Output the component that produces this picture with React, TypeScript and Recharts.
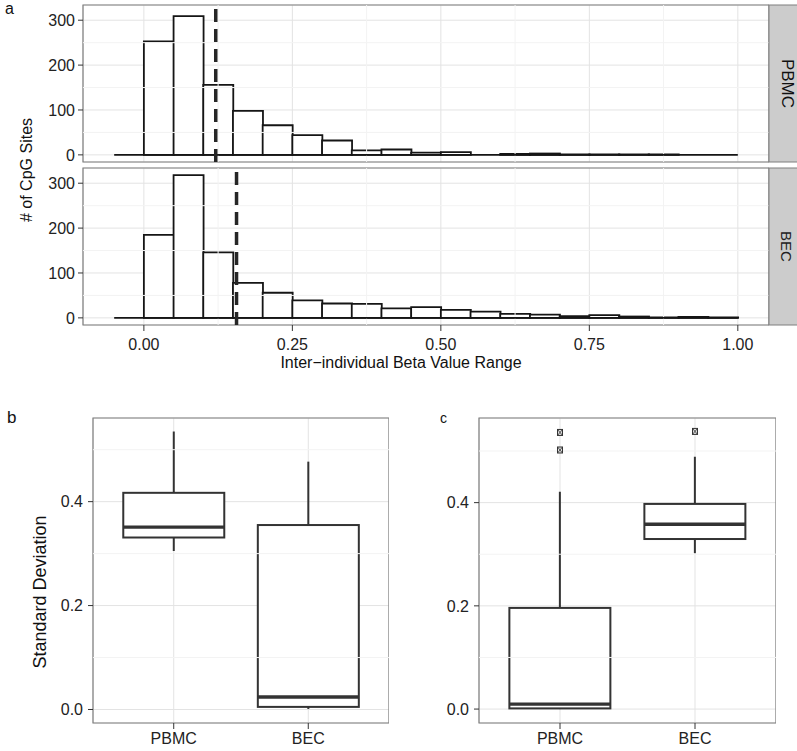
import React from 'react'
import {
  ComposedChart,
  Bar,
  Scatter,
  XAxis,
  YAxis,
  CartesianGrid,
  ReferenceLine,
  ReferenceArea,
} from 'recharts'

// panel a: histogram of inter-individual beta value range (bin width 0.05)
const binMids = [
  -0.025, 0.025, 0.075, 0.125, 0.175, 0.225, 0.275, 0.325, 0.375, 0.425, 0.475,
  0.525, 0.575, 0.625, 0.675, 0.725, 0.775, 0.825, 0.875, 0.925, 0.975,
]
const binWidth = 0.05
const pbmcCounts = [0, 253, 309, 156, 98, 66, 44, 32, 10, 12, 5, 6, 0, 2, 3, 1, 1, 1, 1, 0, 0]
const becCounts = [0, 185, 318, 146, 78, 56, 39, 32, 31, 21, 24, 18, 14, 9, 7, 4, 6, 3, 1, 2, 1]
const pbmcMeanRange = 0.121
const becMeanRange = 0.156

const histXTicks = [0, 0.25, 0.5, 0.75, 1]
const histXMinor = [0.125, 0.375, 0.625, 0.875]
const histYTicks = [0, 100, 200, 300]
const histYMinor = [50, 150, 250]
const histXDomain: [number, number] = [-0.1025, 1.0525]
const histYDomain: [number, number] = [-15.9, 333.9]

// panels b and c: standard deviation box plots
const cellTypes = ['PBMC', 'BEC']
const bLow = [0.305, 0.001]
const bQ1 = [0.331, 0.005]
const bMedian = [0.351, 0.024]
const bQ3 = [0.417, 0.355]
const bHigh = [0.535, 0.477]

const cLow = [0.0, 0.302]
const cQ1 = [0.0013, 0.3295]
const cMedian = [0.0096, 0.358]
const cQ3 = [0.196, 0.3975]
const cHigh = [0.421, 0.489]
const cOutlierCells = ['PBMC', 'PBMC', 'BEC']
const cOutlierValues = [0.536, 0.502, 0.538]

const sdTicks = [0, 0.2, 0.4]
const sdMinor = [0.1, 0.3, 0.5]

const FONT = '"Liberation Sans", Arial, Helvetica, sans-serif'
const INK = '#151515'
const BOX = '#333333'
const MAJOR = '#e3e3e3'
const MINOR = '#f3f3f3'
const BORDER = '#7f7f7f'

const tickStyle = { fontSize: 16, fill: '#222', fontFamily: FONT }

function HistFacet({ counts, meanRange, top, showAxis }: {
  counts: number[]
  meanRange: number
  top: number
  showAxis: boolean
}) {
  const data = binMids.map((mid, i) => ({ mid, count: counts[i] }))
  const axisH = showAxis ? 45 : 0
  const bottomPad = showAxis ? 0 : 8
  const h = 5 + 157 + axisH + bottomPad
  const lo = binMids[0] - binWidth / 2
  const hi = binMids[binMids.length - 1] + binWidth / 2

  return (
    <div style={{ position: 'absolute', left: 0, top, width: 769, height: h }}>
      <ComposedChart
        width={769}
        height={h}
        data={data}
        margin={{ top: 5, right: 0, bottom: bottomPad, left: 0 }}
        barCategoryGap={0}
        barGap={0}
      >
        <CartesianGrid stroke={MAJOR} strokeWidth={1} />
        {histXMinor.map((v) => (
          <ReferenceLine key={'mx' + v} x={v} stroke={MINOR} strokeWidth={1} />
        ))}
        {histYMinor.map((v) => (
          <ReferenceLine key={'my' + v} y={v} stroke={MINOR} strokeWidth={1} />
        ))}
        <XAxis
          dataKey="mid"
          type="number"
          domain={histXDomain}
          ticks={histXTicks}
          interval={0}
          allowDataOverflow
          hide={!showAxis}
          height={axisH}
          tickFormatter={(v: number) => v.toFixed(2)}
          tick={tickStyle}
          tickLine={{ stroke: BOX }}
          axisLine={false}
          tickSize={6}
          tickMargin={8}
        />
        <YAxis
          type="number"
          domain={histYDomain}
          ticks={histYTicks}
          interval={0}
          allowDataOverflow
          width={83}
          tick={tickStyle}
          tickLine={{ stroke: BOX }}
          axisLine={false}
          tickSize={5}
          tickMargin={3}
        />
        <Bar dataKey="count" fill="#fff" stroke={INK} strokeWidth={1.8} isAnimationActive={false} />
        <ReferenceLine
          segment={[{ x: lo, y: 0 }, { x: hi, y: 0 }]}
          stroke={INK}
          strokeWidth={1.8}
        />
        <ReferenceLine x={meanRange} stroke="#262626" strokeWidth={3.5} strokeDasharray="13 7" />
        <ReferenceArea
          x1={histXDomain[0]}
          x2={histXDomain[1]}
          y1={histYDomain[0]}
          y2={histYDomain[1]}
          fill="none"
          stroke={BORDER}
          strokeWidth={1.2}
        />
      </ComposedChart>
    </div>
  )
}

const WhiskerShape = (p: any) => {
  const cx = p.x + p.width / 2
  return <line x1={cx} x2={cx} y1={p.y} y2={p.y + p.height} stroke={BOX} strokeWidth={2} />
}

const BoxShape = (p: any) => (
  <rect
    x={p.x}
    y={Math.min(p.y, p.y + p.height)}
    width={p.width}
    height={Math.abs(p.height)}
    fill="#fff"
    stroke={BOX}
    strokeWidth={2}
  />
)

// median bar spans [q1, median]; only its top edge is drawn
const MedianShape = (p: any) => (
  <line x1={p.x} x2={p.x + p.width} y1={p.y} y2={p.y} stroke={BOX} strokeWidth={3.4} />
)

const OutlierShape = (p: any) => {
  const { cx, cy } = p
  return (
    <g>
      <rect x={cx - 2.5} y={cy - 3} width={5} height={6} fill="#ddd" stroke={BOX} strokeWidth={1} />
      <path
        d={`M${cx - 2.5},${cy - 3}L${cx + 2.5},${cy + 3}M${cx + 2.5},${cy - 3}L${cx - 2.5},${cy + 3}`}
        stroke={BOX}
        strokeWidth={0.8}
      />
    </g>
  )
}

function BoxPanel(props: {
  left: number
  width: number
  yAxisWidth: number
  domain: [number, number]
  low: number[]
  q1: number[]
  median: number[]
  q3: number[]
  high: number[]
  outCells?: string[]
  outValues?: number[]
}) {
  const { left, width, yAxisWidth, domain, low, q1, median, q3, high, outCells = [], outValues = [] } = props
  const data = cellTypes.map((cell, i) => ({
    cell,
    whisker: [low[i], high[i]],
    box: [q1[i], q3[i]],
    med: [q1[i], median[i]],
  }))
  const outliers = outCells.map((cell, i) => ({ cell, sd: outValues[i] }))
  // ggplot discrete expansion: 0.6 of a category on each side
  const plotW = width - yAxisWidth
  const pad = (plotW * 0.1) / 2.2
  const top = 412
  const h = 337

  const catAxis = (id: string, visible: boolean) => (
    <XAxis
      xAxisId={id}
      dataKey="cell"
      type="category"
      allowDuplicatedCategory={false}
      padding={{ left: pad, right: pad }}
      hide={!visible}
      height={26}
      tick={tickStyle}
      tickLine={{ stroke: BOX }}
      axisLine={false}
      tickSize={6}
      tickMargin={4}
    />
  )

  return (
    <div style={{ position: 'absolute', left, top, width, height: h }}>
      <ComposedChart
        width={width}
        height={h}
        data={data}
        margin={{ top: 6, right: 0, bottom: 0, left: 0 }}
        barCategoryGap="12.5%"
        barGap={0}
      >
        <CartesianGrid xAxisId="box" stroke={MAJOR} strokeWidth={1} />
        {sdMinor.map((v) => (
          <ReferenceLine key={'m' + v} xAxisId="box" y={v} stroke={MINOR} strokeWidth={1} />
        ))}
        {catAxis('box', true)}
        {catAxis('whisker', false)}
        {catAxis('median', false)}
        <XAxis xAxisId="frame" type="number" domain={[0, 1]} allowDataOverflow hide />
        <YAxis
          type="number"
          domain={domain}
          ticks={sdTicks}
          interval={0}
          allowDataOverflow
          width={yAxisWidth}
          tickFormatter={(v: number) => v.toFixed(1)}
          tick={tickStyle}
          tickLine={{ stroke: BOX }}
          axisLine={false}
          tickSize={5}
          tickMargin={5}
        />
        <Bar xAxisId="whisker" dataKey="whisker" shape={WhiskerShape} isAnimationActive={false} />
        <Bar xAxisId="box" dataKey="box" shape={BoxShape} isAnimationActive={false} />
        <Bar xAxisId="median" dataKey="med" shape={MedianShape} isAnimationActive={false} />
        {outliers.length > 0 && (
          <Scatter xAxisId="box" data={outliers} dataKey="sd" shape={OutlierShape} isAnimationActive={false} />
        )}
        <ReferenceArea
          xAxisId="frame"
          x1={0}
          x2={1}
          y1={domain[0]}
          y2={domain[1]}
          fill="none"
          stroke={BORDER}
          strokeWidth={1.2}
        />
      </ComposedChart>
    </div>
  )
}

export default function App() {
  return (
    <div
      style={{
        position: 'absolute',
        left: 0,
        top: 0,
        width: 797,
        height: 751,
        overflow: 'hidden',
        background: '#fff',
        fontFamily: FONT,
      }}
    >
      <HistFacet counts={pbmcCounts} meanRange={pbmcMeanRange} top={0} showAxis={false} />
      <HistFacet counts={becCounts} meanRange={becMeanRange} top={163} showAxis />
      <BoxPanel
        left={0}
        width={389}
        yAxisWidth={93}
        domain={[-0.026, 0.561]}
        low={bLow}
        q1={bQ1}
        median={bMedian}
        q3={bQ3}
        high={bHigh}
      />
      <BoxPanel
        left={400}
        width={376}
        yAxisWidth={79}
        domain={[-0.027, 0.564]}
        low={cLow}
        q1={cQ1}
        median={cMedian}
        q3={cQ3}
        high={cHigh}
        outCells={cOutlierCells}
        outValues={cOutlierValues}
      />
      <svg
        width={797}
        height={751}
        style={{ position: 'absolute', left: 0, top: 0, pointerEvents: 'none' }}
        fontFamily={FONT}
      >
        <rect x={769} y={5} width={30} height={157} fill="#cccccc" stroke={BORDER} strokeWidth={1} />
        <rect x={769} y={168} width={30} height={157} fill="#cccccc" stroke={BORDER} strokeWidth={1} />
        <text x={787} y={83.5} fontSize={17} fill="#111" textAnchor="middle" dominantBaseline="central" transform="rotate(90 787 83.5)">
          PBMC
        </text>
        <text x={786} y={246.5} fontSize={15} fill="#222" textAnchor="middle" dominantBaseline="central" transform="rotate(90 786 246.5)">
          BEC
        </text>
        <text x={26} y={170} fontSize={16} fill="#111" textAnchor="middle" dominantBaseline="central" transform="rotate(-90 26 170)">
          # of CpG Sites
        </text>
        <text x={401} y={368} fontSize={16} fill="#111" textAnchor="middle">
          Inter−individual Beta Value Range
        </text>
        <text x={40} y={592} fontSize={18} fill="#111" textAnchor="middle" dominantBaseline="central" transform="rotate(-90 40 592)">
          Standard Deviation
        </text>
        <text x={5} y={14} fontSize={16} fill="#111">a</text>
        <text x={7} y={423} fontSize={17} fill="#111">b</text>
        <text x={440} y={423} fontSize={14} fill="#111">c</text>
      </svg>
    </div>
  )
}
